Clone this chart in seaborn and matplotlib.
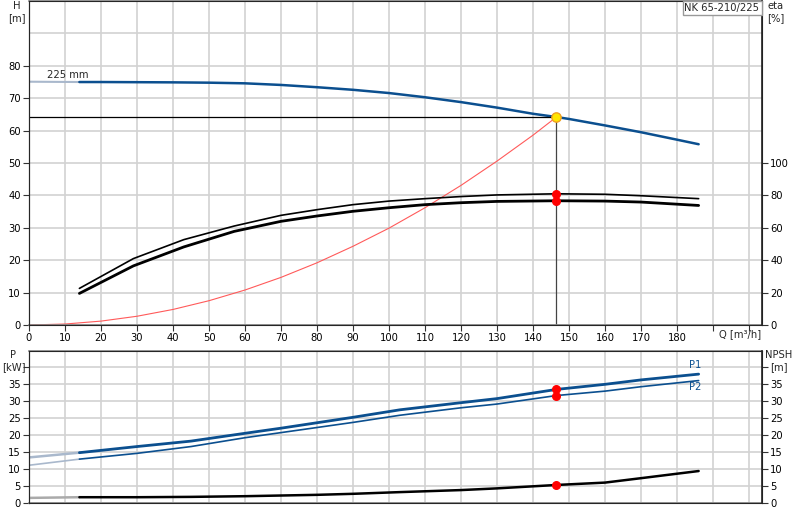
import numpy as np
import pandas as pd
import matplotlib
matplotlib.use("Agg")
import matplotlib.pyplot as plt
import seaborn as sns

# %% data

# head curve (225 mm impeller)
q_h = [14, 20, 30, 40, 50, 60, 70, 80, 90, 100, 110, 120, 130, 140, 146.5, 150, 160, 170, 180, 186]
h = [75.0, 75.0, 74.95, 74.9, 74.8, 74.6, 74.1, 73.4, 72.6, 71.6, 70.3, 68.8, 67.1, 65.2, 64.2, 63.6, 61.6, 59.5, 57.2, 55.8]
q_ext = [0, 14]
h_ext = [75.1, 75.0]

# efficiency curves
q_eta = [14, 29, 43, 57, 70, 80, 90, 100, 110, 120, 130, 146.5, 160, 170, 186]
eta1 = [22.6, 41.0, 52.7, 61.1, 67.7, 71.2, 74.3, 76.5, 78.0, 79.3, 80.3, 81.0, 80.7, 79.8, 78.0]
eta2 = [19.5, 36.5, 48.2, 57.8, 64.0, 67.3, 70.2, 72.4, 74.3, 75.5, 76.3, 76.7, 76.5, 75.9, 73.8]

# system curve
q_sys = [0, 10, 20, 30, 40, 50, 60, 70, 80, 90, 100, 110, 120, 130, 140, 146.5]
h_sys = [0, 0.3, 1.2, 2.7, 4.8, 7.5, 10.8, 14.7, 19.2, 24.3, 29.9, 36.2, 43.1, 50.6, 58.6, 64.2]

# power and npsh
q_p = [14, 30, 45, 60, 70, 80, 90, 103, 120, 130, 146.5, 160, 170, 186]
p1 = [14.8, 16.6, 18.2, 20.5, 22.0, 23.6, 25.2, 27.4, 29.5, 30.7, 33.4, 34.9, 36.2, 37.9]
p2 = [12.9, 14.6, 16.6, 19.2, 20.7, 22.2, 23.7, 25.8, 28.0, 29.1, 31.6, 32.9, 34.2, 36.0]
npsh = [1.7, 1.7, 1.8, 2.0, 2.2, 2.4, 2.7, 3.2, 3.8, 4.3, 5.3, 6.0, 7.3, 9.4]
p1_ext = [13.4, 14.8]
p2_ext = [11.1, 12.9]
npsh_ext = [1.5, 1.7]

# duty point
q_op = 146.5
h_op = 64.2
eta1_op = 81.0
eta2_op = 76.7
p1_op = 33.4
p2_op = 31.6
npsh_op = 5.3

x_ticks = list(range(0, 210, 10))
x_labels = [str(v) if v <= 180 else "" for v in x_ticks]

# %% plot
sns.set_style("white")
plt.rcParams["font.family"] = ["DejaVu Sans"]
fs = 7.2
plt.rcParams["font.size"] = fs

blue = "#0b4f8f"
light = "#a9b8cc"
grid_c = "#d2d2d2"

fig = plt.figure(figsize=(8, 5.2), dpi=100)
ax1 = fig.add_axes([0.03625, 0.375, 0.91625, 0.623])
ax2 = fig.add_axes([0.03625, 0.0327, 0.91625, 0.2923])
ax1r = ax1.twinx()
ax2r = ax2.twinx()

def line(ax, x, y, **kw):
    sns.lineplot(x=x, y=y, ax=ax, sort=False, estimator=None, **kw)

# top: head, efficiency, system
line(ax1, q_ext, h_ext, color=light, lw=1.5)
line(ax1, q_h, h, color=blue, lw=1.8)
line(ax1, q_sys, h_sys, color="#ff5a5a", lw=0.8)
ax1.plot([0, q_op], [h_op, h_op], color="black", lw=0.9)
ax1.plot([q_op, q_op], [0, h_op], color="#444444", lw=0.9)
ax1.scatter([q_op], [h_op], s=45, color="#ffe600", edgecolor="#f0a020", lw=1.0, zorder=5)
ax1.text(5, 77.2, "225 mm", fontsize=fs, ha="left", va="center")

line(ax1r, q_eta, eta1, color="black", lw=1.2)
line(ax1r, q_eta, eta2, color="black", lw=2.0)
ax1r.scatter([q_op, q_op], [eta1_op, eta2_op], s=30, color="red", zorder=5)

ax1.set_xlim(0, 203.6)
ax1.set_ylim(0, 100)
ax1r.set_ylim(0, 200)
ax1.set_xticks(x_ticks)
ax1.set_xticklabels(x_labels)
ax1.set_yticks(range(0, 81, 10))
ax1.set_yticks([90], minor=True)
ax1r.set_yticks(range(0, 101, 20))

# bottom: power, npsh
line(ax2, q_ext, p1_ext, color=light, lw=1.8)
line(ax2, q_ext, p2_ext, color=light, lw=1.2)
line(ax2, q_p, p1, color=blue, lw=2.0)
line(ax2, q_p, p2, color=blue, lw=1.2)
ax2.scatter([q_op, q_op], [p1_op, p2_op], s=30, color="red", zorder=5)
ax2.text(183.3, 40.6, "P1", color=blue, fontsize=fs, ha="left", va="center")
ax2.text(183.3, 34.2, "P2", color=blue, fontsize=fs, ha="left", va="center")

line(ax2r, q_ext, npsh_ext, color="#aaaaaa", lw=1.8)
line(ax2r, q_p, npsh, color="black", lw=1.8)
ax2r.scatter([q_op], [npsh_op], s=30, color="red", zorder=5)

ax2.set_xlim(0, 203.6)
ax2.set_ylim(0, 44.7)
ax2r.set_ylim(0, 44.7)
ax2.set_xticks(x_ticks)
ax2.set_xticklabels([])
ax2.set_yticks(range(0, 45, 5))
ax2.set_yticklabels([str(v) if v <= 35 else "" for v in range(0, 45, 5)])
ax2r.set_yticks(range(0, 45, 5))
ax2r.set_yticklabels([str(v) if v <= 35 else "" for v in range(0, 45, 5)])

for ax in (ax1, ax2):
    ax.grid(True, which="both", color=grid_c, lw=1.2)
    ax.set_axisbelow(True)
    ax.tick_params(axis="both", direction="out", length=4, width=0.8,
                   colors="#333333", labelcolor="black", labelsize=fs, pad=2)
    ax.tick_params(axis="y", left=True)
    ax.tick_params(which="minor", length=0)
    ax.set_xlabel("")
    ax.set_ylabel("")
    for s in ("top", "bottom"):
        ax.spines[s].set_color("#888888")
        ax.spines[s].set_linewidth(1.2)
    ax.spines["left"].set_color("#333333")
ax2.tick_params(axis="x", length=0)
ax1.tick_params(axis="x", bottom=True)

for ax in (ax1r, ax2r):
    ax.grid(False)
    ax.tick_params(axis="y", direction="out", length=4, width=0.8, right=True,
                   colors="#333333", labelcolor="black", labelsize=fs, pad=2)
    ax.set_ylabel("")
    ax.spines["right"].set_color("#222222")
    ax.spines["right"].set_linewidth(1.2)
    ax.spines["right"].set_visible(True)

# axis captions
fig.text(17 / 800, 1 - 6 / 520, "H", ha="center", va="center", fontsize=fs)
fig.text(17 / 800, 1 - 18 / 520, "[m]", ha="center", va="center", fontsize=fs)
fig.text(776 / 800, 1 - 6 / 520, "eta", ha="center", va="center", fontsize=fs)
fig.text(776 / 800, 1 - 18 / 520, "[%]", ha="center", va="center", fontsize=fs)
fig.text(740 / 800, 1 - 334 / 520, "Q [m³/h]", ha="center", va="center", fontsize=fs)
fig.text(13 / 800, 1 - 355 / 520, "P", ha="center", va="center", fontsize=fs)
fig.text(14 / 800, 1 - 367 / 520, "[kW]", ha="center", va="center", fontsize=fs)
fig.text(779 / 800, 1 - 355 / 520, "NPSH", ha="center", va="center", fontsize=fs)
fig.text(779 / 800, 1 - 367 / 520, "[m]", ha="center", va="center", fontsize=fs)
fig.text(722 / 800, 1 - 8 / 520, "NK 65-210/225", ha="center", va="center", fontsize=fs,
         bbox=dict(boxstyle="square,pad=0.2", fc="white", ec="#999999", lw=1.0))

fig.savefig("out.png", dpi=100)
